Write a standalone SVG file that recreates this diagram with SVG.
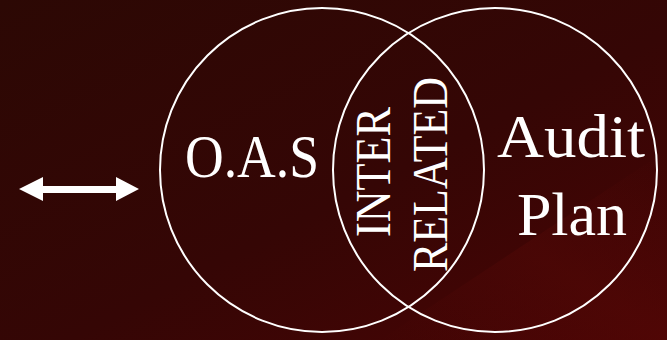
<svg xmlns="http://www.w3.org/2000/svg" width="667" height="340" viewBox="0 0 667 340">
<defs>
<linearGradient id="bg" x1="0" y1="0" x2="1" y2="1">
<stop offset="0" stop-color="#2c0804"/>
<stop offset="0.55" stop-color="#350605"/>
<stop offset="1" stop-color="#4a0404"/>
</linearGradient>
<linearGradient id="band" x1="0" y1="1" x2="1" y2="0">
<stop offset="0" stop-color="#5a0a08" stop-opacity="0"/>
<stop offset="0.5" stop-color="#5a0a08" stop-opacity="0.35"/>
<stop offset="1" stop-color="#5a0a08" stop-opacity="0"/>
</linearGradient>
</defs>
<style>
.ring{fill:none;stroke:#ffffff;stroke-width:2}
.lbl{fill:#ffffff;font-family:"Liberation Serif","DejaVu Serif",serif}
</style>
<rect width="667" height="340" fill="url(#bg)"/>
<path d="M380 340 L667 150 L667 340 Z" fill="url(#band)"/>
<g id="connectors">
<polygon points="19,189 43,177 43,186 116,186 116,177 139,189 116,201 116,193 43,193 43,201" fill="#ffffff"/>
</g>
<g id="node-oas">
<circle class="ring" cx="322" cy="170" r="162"/>
<text class="lbl" x="185" y="177" font-size="62" textLength="134" lengthAdjust="spacingAndGlyphs">O.A.S</text>
</g>
<g id="node-audit-plan">
<circle class="ring" cx="495" cy="170" r="162"/>
<text class="lbl" x="571" y="157" font-size="62" text-anchor="middle" textLength="148" lengthAdjust="spacingAndGlyphs">Audit</text>
<text class="lbl" x="572" y="235" font-size="62" text-anchor="middle">Plan</text>
</g>
<g id="node-interrelated">
<text class="lbl" transform="translate(390,172) rotate(-90)" x="0" y="0" font-size="50" text-anchor="middle" textLength="130" lengthAdjust="spacingAndGlyphs">INTER</text>
<text class="lbl" transform="translate(447,174.5) rotate(-90)" x="0" y="0" font-size="50" text-anchor="middle" textLength="195" lengthAdjust="spacingAndGlyphs">RELATED</text>
</g>
</svg>
